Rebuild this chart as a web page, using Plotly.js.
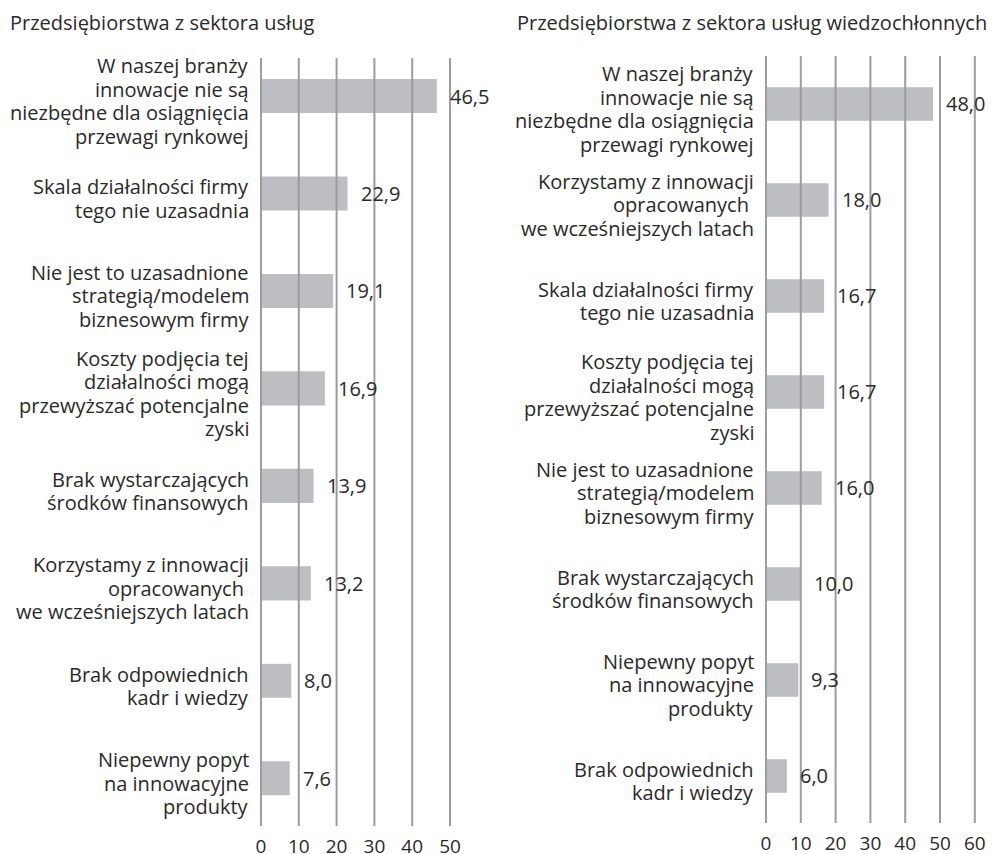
<!DOCTYPE html>
<html>
<head>
<meta charset="utf-8">
<script src="https://cdn.plot.ly/plotly-3.0.1.min.js"></script>
<style>html,body{margin:0;padding:0;background:#fff;}#chart{width:992px;height:854px;}</style>
</head>
<body>
<div id="chart"></div>
<script>
// ---- data ----
const titleLeft = "Przedsiębiorstwa z sektora usług";
const titleRight = "Przedsiębiorstwa z sektora usług wiedzochłonnych";

const catsLeft = [
  "W naszej branży<br>innowacje nie są<br>niezbędne dla osiągnięcia<br>przewagi rynkowej",
  "Skala działalności firmy<br>tego nie uzasadnia",
  "Nie jest to uzasadnione<br>strategią/modelem<br>biznesowym firmy",
  "Koszty podjęcia tej<br>działalności mogą<br>przewyższać potencjalne<br>zyski",
  "Brak wystarczających<br>środków finansowych",
  "Korzystamy z innowacji<br>opracowanych\u00a0<br>we wcześniejszych latach",
  "Brak odpowiednich<br>kadr i wiedzy",
  "Niepewny popyt<br>na innowacyjne<br>produkty"
];
const valsLeft = [46.5, 22.9, 19.1, 16.9, 13.9, 13.2, 8.0, 7.6];

const catsRight = [
  "W naszej branży<br>innowacje nie są<br>niezbędne dla osiągnięcia<br>przewagi rynkowej",
  "Korzystamy z innowacji<br>opracowanych\u00a0<br>we wcześniejszych latach",
  "Skala działalności firmy<br>tego nie uzasadnia",
  "Koszty podjęcia tej<br>działalności mogą<br>przewyższać potencjalne<br>zyski",
  "Nie jest to uzasadnione<br>strategią/modelem<br>biznesowym firmy",
  "Brak wystarczających<br>środków finansowych",
  "Niepewny popyt<br>na innowacyjne<br>produkty",
  "Brak odpowiednich<br>kadr i wiedzy"
];
const valsRight = [48.0, 18.0, 16.7, 16.7, 16.0, 10.0, 9.3, 6.0];

const ticksLeft = [0, 10, 20, 30, 40, 50];
const ticksRight = [0, 10, 20, 30, 40, 50, 60];

// ---- styles ----
const FONT = "'Open Sans', 'Noto Sans', sans-serif";
const TEXT = "#2a2a2a";
const BAR = "#bdbec1";
const GRID = "#9c9c9e";
const FS = 20;
const LINE = 23.5;
const fmt = v => v.toFixed(1).replace('.', ',');

const traces = [
  {type: 'bar', orientation: 'h', x: valsLeft, y: catsLeft, xaxis: 'x', yaxis: 'y',
   marker: {color: BAR}, width: 0.35, hoverinfo: 'none'},
  {type: 'bar', orientation: 'h', x: valsRight, y: catsRight, xaxis: 'x2', yaxis: 'y2',
   marker: {color: BAR}, width: 0.35, hoverinfo: 'none'}
];

const shapes = [];
ticksLeft.forEach(t => shapes.push({type: 'line', xref: 'x', yref: 'y domain', x0: t, x1: t, y0: 0, y1: 1,
  line: {color: GRID, width: 2}, layer: 'above'}));
ticksRight.forEach(t => shapes.push({type: 'line', xref: 'x2', yref: 'y2 domain', x0: t, x1: t, y0: 0, y1: 1,
  line: {color: GRID, width: 2}, layer: 'above'}));

const annotations = [];
function addValues(vals, cats, xr, yr) {
  vals.forEach((v, i) => annotations.push({x: v, y: cats[i], xref: xr, yref: yr, text: fmt(v),
    showarrow: false, xanchor: 'left', yanchor: 'middle', xshift: 11,
    font: {family: FONT, size: FS, color: TEXT}}));
}
function addCatLabels(cats, xr, yr) {
  cats.forEach(c => {
    const lines = c.split('<br>');
    const n = lines.length;
    lines.forEach((ln, j) => annotations.push({x: 0, y: c, xref: xr, yref: yr, text: ln,
      showarrow: false, xanchor: 'right', yanchor: 'middle', xshift: -10,
      yshift: ((n - 1) / 2 - j) * LINE - 5,
      font: {family: FONT, size: FS, color: TEXT}}));
  });
}
addValues(valsLeft, catsLeft, 'x', 'y');
addValues(valsRight, catsRight, 'x2', 'y2');
addCatLabels(catsLeft, 'x', 'y');
addCatLabels(catsRight, 'x2', 'y2');

annotations.push({xref: 'paper', yref: 'paper', x: 8/992, y: 1 - 22/854, xanchor: 'left', yanchor: 'middle',
  text: titleLeft, showarrow: false, font: {family: FONT, size: FS, color: TEXT}});
annotations.push({xref: 'paper', yref: 'paper', x: 515/992, y: 1 - 22/854, xanchor: 'left', yanchor: 'middle',
  text: titleRight, showarrow: false, font: {family: FONT, size: FS, color: TEXT}});

const xcommon = {showgrid: false, zeroline: false, showline: false, ticks: 'outside', ticklen: 3,
  tickcolor: 'rgba(0,0,0,0)', tickfont: {family: FONT, size: 19, color: TEXT}, fixedrange: true};
const ycommon = {type: 'category', showgrid: false, zeroline: false, showline: false, ticks: '',
  showticklabels: false, fixedrange: true};

const layout = {
  width: 992, height: 854,
  margin: {l: 0, r: 0, t: 0, b: 0},
  paper_bgcolor: '#fff', plot_bgcolor: 'rgba(0,0,0,0)',
  showlegend: false,
  font: {family: FONT, color: TEXT},
  xaxis: Object.assign({}, xcommon, {domain: [257.2/992, 453.8/992], range: [-1, 51], tickvals: ticksLeft,
    ticktext: ticksLeft.map(String), anchor: 'y', automargin: false}),
  yaxis: Object.assign({}, ycommon, {domain: [1 - 826/854, 1 - 58/854], range: [7.49, -0.39], anchor: 'x',
    categoryorder: 'array', categoryarray: catsLeft, automargin: false}),
  xaxis2: Object.assign({}, xcommon, {domain: [762.5/992, 978.3/992], range: [-1, 61], tickvals: ticksRight,
    ticktext: ticksRight.map(String), anchor: 'y2', automargin: false}),
  yaxis2: Object.assign({}, ycommon, {domain: [1 - 823/854, 1 - 56/854], range: [7.49, -0.5], anchor: 'x2',
    categoryorder: 'array', categoryarray: catsRight, automargin: false}),
  shapes: shapes,
  annotations: annotations
};

Plotly.newPlot('chart', traces, layout, {staticPlot: true, displayModeBar: false});
</script>
</body>
</html>
